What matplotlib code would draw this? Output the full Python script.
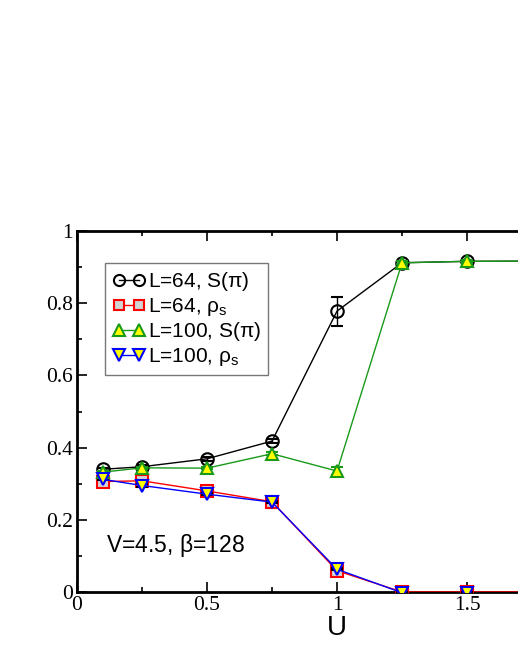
import matplotlib
matplotlib.use("Agg")
import matplotlib.pyplot as plt
from matplotlib.ticker import MultipleLocator
from matplotlib.lines import Line2D

plt.rcParams["mathtext.fontset"] = "custom"
plt.rcParams["mathtext.rm"] = "Liberation Sans"
plt.rcParams["mathtext.it"] = "Liberation Sans"

U = [0.1, 0.25, 0.5, 0.75, 1.0, 1.25, 1.5, 2.0]
S64 = [0.340, 0.347, 0.369, 0.418, 0.778, 0.912, 0.916, 0.917]
S64_err = [0.004, 0.004, 0.005, 0.006, 0.040, 0.006, 0.005, 0.005]
S100 = [0.332, 0.344, 0.343, 0.383, 0.335, 0.912, 0.916, 0.917]
S100_err = [0.003, 0.003, 0.003, 0.004, 0.012, 0.004, 0.004, 0.004]
R64 = [0.306, 0.308, 0.280, 0.250, 0.059, 0.0, 0.0, 0.0]
R64_err = [0.004, 0.004, 0.004, 0.004, 0.004, 0.004, 0.012, 0.004]
R100 = [0.312, 0.295, 0.271, 0.249, 0.063, -0.002, -0.002, -0.002]
R100_err = [0.003, 0.003, 0.003, 0.003, 0.003, 0.003, 0.003, 0.003]
labels = [r"L=64, S($\pi$)", r"L=64, $\rho_{\rm s}$", r"L=100, S($\pi$)", r"L=100, $\rho_{\rm s}$"]
xtick_labels = ["0", "0.5", "1", "1.5", ""]
ytick_labels = ["0", "0.2", "0.4", "0.6", "0.8", "1"]

W, H = 518, 670
fig = plt.figure(figsize=(W / 100, H / 100), dpi=100)
ax = fig.add_axes([77 / W, 1 - 592 / H, 520 / W, (592 - 231) / H])

ms = 9
mew = 1.5
green = "#1a9a1a"
styles = [
    dict(color="black", marker="o", mfc="none", mec="black", ms=ms),
    dict(color="red", marker="s", mfc="#d3d3d3", mec="red", ms=ms - 1),
    dict(color=green, marker="^", mfc="yellow", mec=green, ms=ms),
    dict(color="blue", marker="v", mfc="yellow", mec="blue", ms=ms),
]
series = [(S64, S64_err, "black"), (R64, R64_err, "black"), (S100, S100_err, green), (R100, R100_err, "black")]
handles = []
for (vals, errs, ecol), st, lab, z in zip(series, styles, labels, [3, 3, 4, 4]):
    ax.errorbar(U, vals, yerr=errs, lw=1, mew=mew, capsize=4, elinewidth=1,
                ecolor=ecol, zorder=z, **st)
    hst = dict(st)
    hst["ms"] = st["ms"] - 1
    handles.append(Line2D([], [], lw=1, mew=mew, **hst))

ax.set_xlim(0, 2)
ax.set_ylim(0, 1)
ax.xaxis.set_minor_locator(MultipleLocator(0.25))
ax.yaxis.set_minor_locator(MultipleLocator(0.1))
ax.set_xticks([0, 0.5, 1, 1.5, 2])
ax.set_xticklabels(xtick_labels, family="Liberation Serif", fontsize=15.5)
ax.set_yticks([0, 0.2, 0.4, 0.6, 0.8, 1])
ax.set_yticklabels(ytick_labels, family="Liberation Serif", fontsize=15.5)
ax.tick_params(which="both", direction="in", top=True, right=True, width=1.2)
ax.tick_params(which="major", length=7.5, pad=3)
ax.tick_params(which="minor", length=3.75)
for sp in ax.spines.values():
    sp.set_linewidth(2)

ax.set_xlabel("U", family="Liberation Sans", fontsize=20, labelpad=0)

ax.text(0.11, 0.11, r"V=4.5, $\beta$=128", family="Liberation Sans", fontsize=16.5)

leg = ax.legend(handles, labels, loc="upper left", bbox_to_anchor=(28 / 520, 1 - 32 / 361),
                numpoints=2, frameon=True, fancybox=False,
                prop={"family": "Liberation Sans", "size": 15},
                handlelength=1.6, handletextpad=0.1, labelspacing=0.12, borderpad=0.35,
                borderaxespad=0)
leg.get_frame().set_edgecolor("#555555")
leg.get_frame().set_linewidth(1)

fig.savefig("out.png", dpi=100)
